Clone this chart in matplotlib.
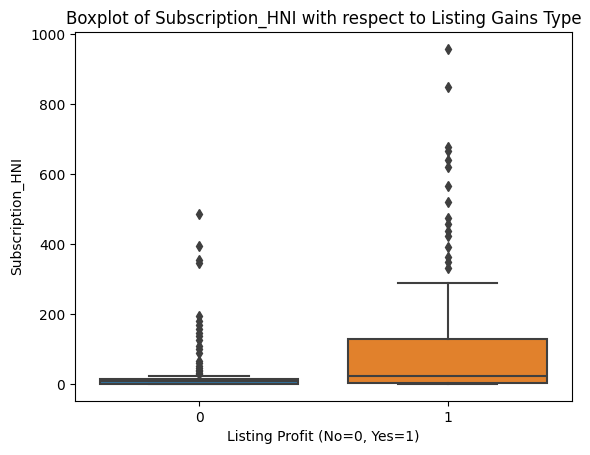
import matplotlib
matplotlib.use("Agg")
import matplotlib.pyplot as plt

categories = ["0", "1"]
q1 = [0.5, 3]
med = [7.5, 24]
q3 = [14, 129]
whislo = [0, 0]
whishi = [24, 289]
fliers_0 = [30, 33, 36, 40, 45, 52, 60, 67, 90, 100, 110, 125, 138, 145,
            157, 170, 181, 195, 345, 355, 395, 487]
fliers_1 = [331, 348, 362, 393, 424, 438, 457, 476, 521, 567,
            622, 640, 665, 677, 850, 959]
box_colors = ["#3274a1", "#e1812c"]
line_gray = "#3f3f3f"

fig = plt.figure(figsize=(5.9, 4.55), dpi=100)
ax = fig.add_axes([0.127, 0.119, 0.842, 0.811])

stats = []
for i, fl in enumerate([fliers_0, fliers_1]):
    stats.append(dict(med=med[i], q1=q1[i], q3=q3[i], whislo=whislo[i],
                      whishi=whishi[i], fliers=fl, label=categories[i]))

bp = ax.bxp(stats, positions=range(len(categories)), widths=0.8,
            patch_artist=True,
            boxprops=dict(edgecolor=line_gray, linewidth=1.5),
            medianprops=dict(color=line_gray, linewidth=1.5),
            whiskerprops=dict(color=line_gray, linewidth=1.5),
            capprops=dict(color=line_gray, linewidth=1.5),
            flierprops=dict(marker="d", markerfacecolor=line_gray,
                            markeredgecolor=line_gray, markersize=5))
for patch, c in zip(bp["boxes"], box_colors):
    patch.set_facecolor(c)
# caps width like seaborn (half box width)
for i, cap in enumerate(bp["caps"]):
    pos = i // 2
    cap.set_xdata([pos - 0.2, pos + 0.2])

ax.set_xlim(-0.5, 1.5)
ax.set_xticks(range(len(categories)))
ax.set_xticklabels(categories)
ax.set_title("Boxplot of Subscription_HNI with respect to Listing Gains Type")
ax.set_xlabel("Listing Profit (No=0, Yes=1)")
ax.set_ylabel("Subscription_HNI")

fig.savefig("out.png", dpi=100)
